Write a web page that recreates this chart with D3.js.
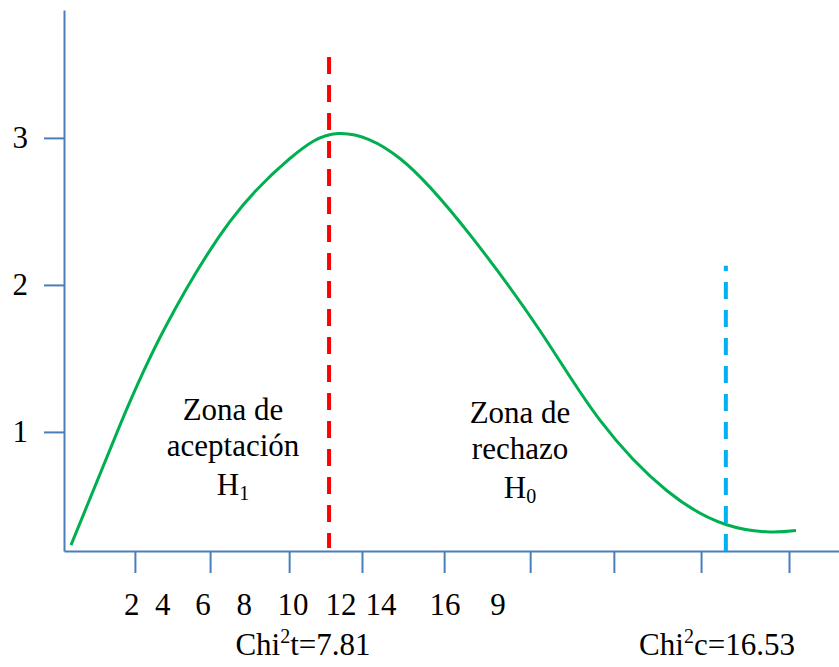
<!DOCTYPE html>
<html>
<head>
<meta charset="utf-8">
<script src="https://cdn.jsdelivr.net/npm/d3@7"></script>
<style>
  body { margin: 0; background: #fff; }
  svg { display: block; font-family: "Liberation Serif", "Times New Roman", serif; }
</style>
</head>
<body>
<svg id="chart" width="839" height="667"></svg>
<script>
// y axis ticks
const yTicks = [1, 2, 3];
// x axis tick marks (no numbers on them) and the loose labels under them
const xTickMarks = [1.83, 3.77, 5.81, 7.69, 9.81, 12.03, 14.19, 16.44, 18.71];
const xLabels = ['2', '4', '6', '8', '10', '12', '14', '16', '9'];
const xLabelPos = [1.75, 2.55, 3.59, 4.65, 5.91, 7.15, 8.18, 9.83, 11.2];

// green curve
const curveX = [0.18, 1.45, 2.61, 4.28, 5.83, 7.07, 8.67, 10.48, 12.28, 13.83, 15.56, 17.08, 18.22, 18.89];
const curveY = [0.23, 1.05, 1.71, 2.43, 2.86, 3.03, 2.86, 2.34, 1.69, 1.08, 0.60, 0.37, 0.32, 0.33];

// critical values (dashed lines)
const chiTable = 6.84, chiTableTop = 3.55;
const chiCalc = 17.08, chiCalcTop = 2.13;

const svg = d3.select('#chart');

const x = d3.scaleLinear().domain([0, 20]).range([64, 839]);
const y = d3.scaleLinear().domain([0.19, 3.87]).range([551, 10]);

const axisColor = '#4a7ebb';

// y axis
const yAxis = svg.append('g')
  .attr('transform', 'translate(' + x(0) + ',0)')
  .call(d3.axisLeft(y).tickValues(yTicks).tickSize(20).tickSizeOuter(0).tickPadding(16).tickFormat(d3.format('d')));
yAxis.attr('font-family', null);
yAxis.selectAll('path, line').attr('stroke', axisColor).attr('stroke-width', 2);
yAxis.selectAll('text').attr('font-size', 31).attr('fill', '#000');

// x axis
const xAxis = svg.append('g')
  .attr('transform', 'translate(0,' + y(0.19) + ')')
  .call(d3.axisBottom(x).tickValues(xTickMarks).tickSize(22).tickSizeOuter(0).tickFormat(''));
xAxis.selectAll('path, line').attr('stroke', axisColor).attr('stroke-width', 2);

// x labels
svg.selectAll('.xlab')
  .data(xLabels)
  .enter()
  .append('text')
  .attr('class', 'xlab')
  .attr('x', function(d, i) { return x(xLabelPos[i]); })
  .attr('y', 615)
  .attr('text-anchor', 'middle')
  .attr('font-size', 31)
  .text(function(d) { return d; });

// curve
const points = curveX.map(function(d, i) { return [d, curveY[i]]; });
const line = d3.line()
  .x(function(d) { return x(d[0]); })
  .y(function(d) { return y(d[1]); })
  .curve(d3.curveNatural);

svg.append('path')
  .datum(points)
  .attr('d', line)
  .attr('fill', 'none')
  .attr('stroke', '#00b050')
  .attr('stroke-width', 3);

// dashed lines
svg.append('line')
  .attr('x1', x(chiTable)).attr('x2', x(chiTable))
  .attr('y1', y(chiTableTop)).attr('y2', y(0.21))
  .attr('stroke', '#ff0000')
  .attr('stroke-width', 4)
  .attr('stroke-dasharray', '17,11');

svg.append('line')
  .attr('x1', x(chiCalc)).attr('x2', x(chiCalc))
  .attr('y1', y(0.19)).attr('y2', y(chiCalcTop))
  .attr('stroke', '#00b0f0')
  .attr('stroke-width', 4)
  .attr('stroke-dasharray', '17,11');

// zone labels
function zone(cx, lines, sub, baseY) {
  const g = svg.append('g').attr('font-size', 31).attr('text-anchor', 'middle');
  lines.forEach(function(t, i) {
    g.append('text').attr('x', cx).attr('y', baseY + i * 36).text(t);
  });
  const h = g.append('text').attr('x', cx).attr('y', baseY + 75);
  h.append('tspan').text('H');
  h.append('tspan').attr('font-size', 20).attr('dy', 5).text(sub);
}
zone(233, ['Zona de', 'aceptación'], '1', 420);
zone(520, ['Zona de', 'rechazo'], '0', 423);

// critical value labels
function chiLabel(cx, letter, value) {
  const t = svg.append('text')
    .attr('x', cx).attr('y', 655)
    .attr('font-size', 31)
    .attr('text-anchor', 'middle');
  t.append('tspan').text('Chi');
  t.append('tspan').attr('font-size', 20).attr('dy', -12).text('2');
  t.append('tspan').attr('dy', 12).text(letter + '=' + value);
}
chiLabel(303, 't', '7.81');
chiLabel(717, 'c', '16.53');
</script>
</body>
</html>
